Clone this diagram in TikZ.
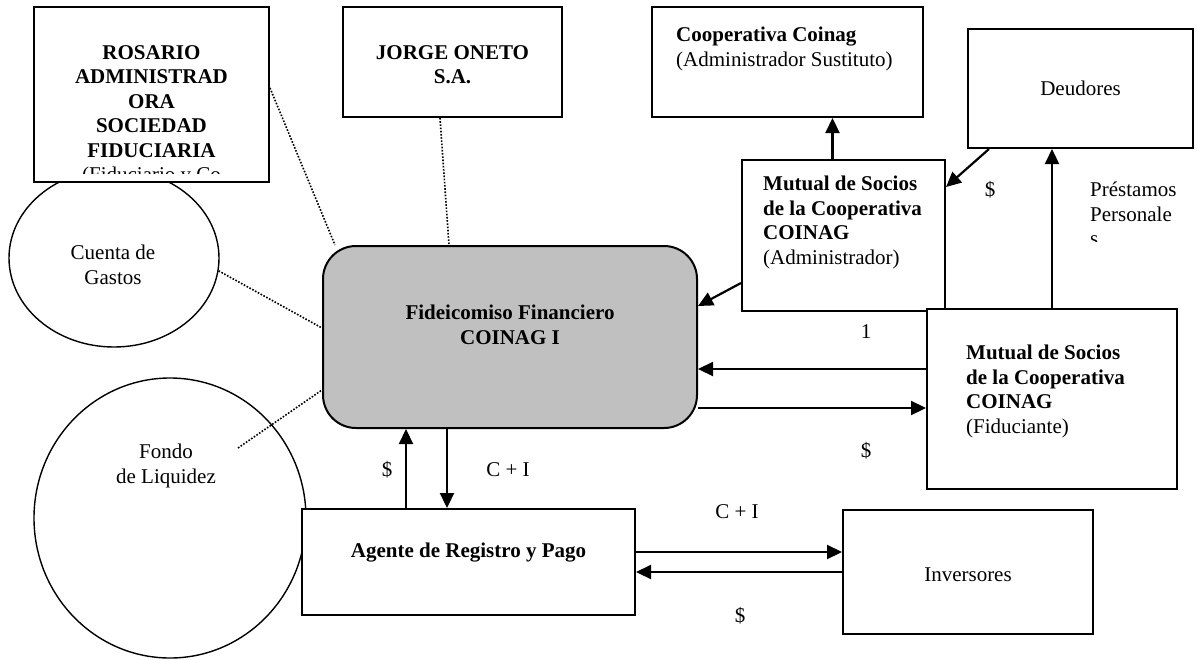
\documentclass[tikz,border=0pt]{standalone}
\usepackage{fontspec}
\setmainfont{Liberation Serif}
\usepackage{xcolor}
\usepackage{tikz}
\usetikzlibrary{shapes.geometric,arrows.meta}
\definecolor{trustgray}{RGB}{192,192,192}

\begin{document}
\begin{tikzpicture}[
    x=1pt, y=-1pt,
    every node/.style={font=\fontsize{21}{24.5}\selectfont},
    % Boxes, rounded trust box and fund ellipses
    box/.style={rectangle, draw, fill=white, line width=2pt, inner sep=0pt},
    trust/.style={rectangle, draw, fill=trustgray, rounded corners=33pt, line width=2pt, inner sep=0pt},
    fund/.style={ellipse, draw, line width=1.4pt, inner sep=0pt},
    txt/.style={inner sep=0pt, align=left},
    arrow/.style={-{Triangle[length=15pt,width=14pt]}, line width=2.2pt},
    link/.style={line width=1.6pt, dash pattern=on 1.6pt off 1.6pt}
]
\useasboundingbox (0,0) rectangle (1197,659);

% Funds on the left (drawn first, boxes cover them)
\node [fund, minimum width=210pt, minimum height=178pt] (gastos) at (114,258) {};
\node [fund, minimum width=272pt, minimum height=280pt] (fondo) at (170,518) {};
\node [txt, align=center, anchor=north] (gastoslbl) at (113,245) {Cuenta de\\Gastos};
\node [txt, align=center, anchor=north] (fondolbl) at (166,444) {Fondo\\de Liquidez};
\coordinate (fondoend) at (238,448);

% Row 1: top boxes
\node [box, minimum width=235pt, minimum height=175pt] (rosario) at (151.5,94.5) {};
\begin{scope}
  \clip (rosario.north west) rectangle ([yshift=10pt]rosario.south east);
  \node [txt, align=center, anchor=north] (rosariolbl) at (151.5,45) {\textbf{ROSARIO}\\\textbf{ADMINISTRAD}\\\textbf{ORA}\\\textbf{SOCIEDAD}\\\textbf{FIDUCIARIA}\\(Fiduciario y Co};
\end{scope}
\node [box, minimum width=219pt, minimum height=110pt] (jorge) at (452.5,62) {};
\node [txt, align=center, anchor=north] (jorgelbl) at (452.5,45) {\textbf{JORGE ONETO}\\\textbf{S.A.}};
\node [box, minimum width=271pt, minimum height=110pt] (coop) at (787.5,62) {};
\node [txt, anchor=north west] (cooplbl) at (676,27) {\textbf{Cooperativa Coinag}\\(Administrador Sustituto)};
\node [box, minimum width=225pt, minimum height=119pt] (deudores) at (1080.5,88.5) {Deudores};

% Row 2: administrator and trust
\node [box, minimum width=203pt, minimum height=151pt] (admin) at (843.5,235.5) {};
\node [txt, anchor=north west] (adminlbl) at (763,176) {\textbf{Mutual de Socios}\\\textbf{de la Cooperativa}\\\textbf{COINAG}\\(Administrador)};
\node [trust, minimum width=374pt, minimum height=182pt] (fideicomiso) at (510,337) {};
\node [txt, align=center, anchor=north] (fideicomisolbl) at (510,305) {\textbf{Fideicomiso Financiero}\\\textbf{COINAG I}};
\node [box, minimum width=250pt, minimum height=180pt] (fiduc) at (1052,399) {};
\node [txt, anchor=north west] (fiduclbl) at (966,345) {\textbf{Mutual de Socios}\\\textbf{de la Cooperativa}\\\textbf{COINAG}\\(Fiduciante)};

% Row 3: payment agent and investors
\node [box, minimum width=333pt, minimum height=106pt] (agente) at (468.5,562) {};
\node [txt] (agentelbl) at (468.5,553) {\textbf{Agente de Registro y Pago}};
\node [box, minimum width=250pt, minimum height=124pt] (inversores) at (968,572) {};
\node [txt] (inversoreslbl) at (968,575) {Inversores};

% Dotted links to the trust
\draw [link] ([yshift=6.5pt]rosario.east) -- ([xshift=-175pt]fideicomiso.north);
\draw [link] ([xshift=-12.5pt]jorge.south) -- ([xshift=-61pt]fideicomiso.north);
\draw [link] (gastos.-7) -- ([yshift=9pt]fideicomiso.west);
\draw [link] (fondoend) -- ([yshift=-53pt]fideicomiso.west);

% Administrator connections
\draw [arrow] ([xshift=-11pt]admin.north) -- ([xshift=-11pt]admin.north |- coop.south);
\draw [arrow] ([yshift=-47.5pt]admin.west) -- ([yshift=31pt]fideicomiso.east);
\draw [arrow] ([xshift=-91.5pt]deudores.south) -- ([yshift=48.5pt]admin.east);
\draw [arrow] (fiduc.north) -- (fiduc.north |- deudores.south);

% Trust and fiduciante
\draw [arrow] ([yshift=30pt]fiduc.west) -- ([yshift=30pt]fiduc.west -| fideicomiso.east);
\draw [arrow] ([yshift=-71pt]fideicomiso.east) -- ([yshift=-71pt]fideicomiso.east -| fiduc.west);

% Payment agent and investors
\draw [arrow] ([xshift=-62.5pt]agente.north) -- ([xshift=-62.5pt]agente.north |- fideicomiso.south);
\draw [arrow] ([xshift=-63pt]fideicomiso.south) -- ([xshift=-63pt]fideicomiso.south |- agente.north);
\draw [arrow] ([yshift=10pt]agente.east) -- ([yshift=10pt]agente.east -| inversores.west);
\draw [arrow] (inversores.west) -- (inversores.west -| agente.east);

% Flow labels
\node (cashdeud) at (990,190) {\$};
\begin{scope}
  \clip (1085,175) rectangle (1197,241);
  \node [txt, anchor=north west] (loans) at (1090,182) {Préstamos\\Personale\\s};
\end{scope}
\node (one) at (866,332) {1};
\node (cashfid) at (866,451) {\$};
\node (cashup) at (387,470) {\$};
\node (capint) at (508,470) {C + I};
\node (capinv) at (737,512) {C + I};
\node (cashinv) at (740,616) {\$};

\end{tikzpicture}
\end{document}
